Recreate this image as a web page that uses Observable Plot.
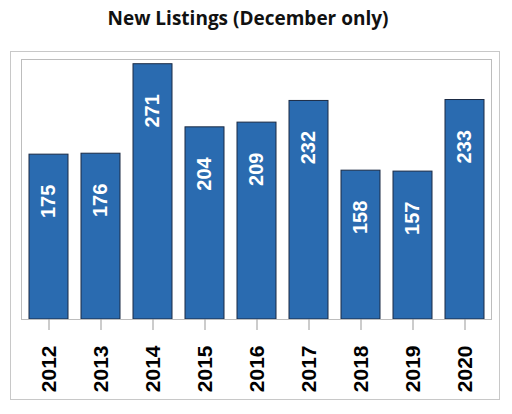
<!DOCTYPE html>
<html>
<head>
<meta charset="utf-8">
<script src="https://cdn.jsdelivr.net/npm/d3@7"></script>
<script src="https://cdn.jsdelivr.net/npm/@observablehq/plot@0.6"></script>
<style>
  html, body { margin: 0; padding: 0; background: #fff; }
  #wrap { position: relative; width: 512px; height: 414px; }
  #title { position: absolute; left: 0; top: 7px; width: 496px; text-align: center;
    font-family: "Open Sans", Lato, sans-serif; font-weight: 700; font-size: 19px; line-height: 23px; color: #111; }
  #box { position: absolute; left: 10px; top: 51px; width: 488px; height: 347px; border: 1px solid #c8c8c8; }
  #box svg { display: block; }
</style>
</head>
<body>
<div id="wrap">
  <div id="title">New Listings (December only)</div>
  <div id="box"></div>
</div>
<script>
const years = ["2012","2013","2014","2015","2016","2017","2018","2019","2020"];
const listings = [175, 176, 271, 204, 209, 232, 158, 157, 233];

const data = years.map((y, i) => ({year: y, value: listings[i]}));

const chart = Plot.plot({
  width: 488,
  height: 347,
  marginLeft: 10,
  marginRight: 8,
  marginTop: 7,
  marginBottom: 80,
  style: {background: "#fff", overflow: "visible"},
  x: {domain: years, paddingInner: 0.25, paddingOuter: 0.13, label: null},
  y: {domain: [0, 276], axis: null},
  marks: [
    Plot.barY(data, {x: "year", y: "value", fill: "#2a6bb0", stroke: "#1b2b45", strokeWidth: 1}),
    Plot.text(data, {x: "year", y: "value", text: d => String(d.value), rotate: -90,
      textAnchor: "end", lineAnchor: "middle", dy: 30, fill: "#fff", fontWeight: "bold", fontSize: 20,
      fontFamily: "'Liberation Sans', Arial, sans-serif"}),
    Plot.frame({stroke: "#bdbdbd", strokeWidth: 1}),
    Plot.axisX({tickRotate: -90, tickSize: 11, tickPadding: 15, stroke: "#999",
      fill: "#000", fontSize: 21, fontWeight: "bold",
      fontFamily: "'Liberation Sans', Arial, sans-serif",
      label: null})
  ]
});
document.getElementById("box").appendChild(chart);
</script>
</body>
</html>
